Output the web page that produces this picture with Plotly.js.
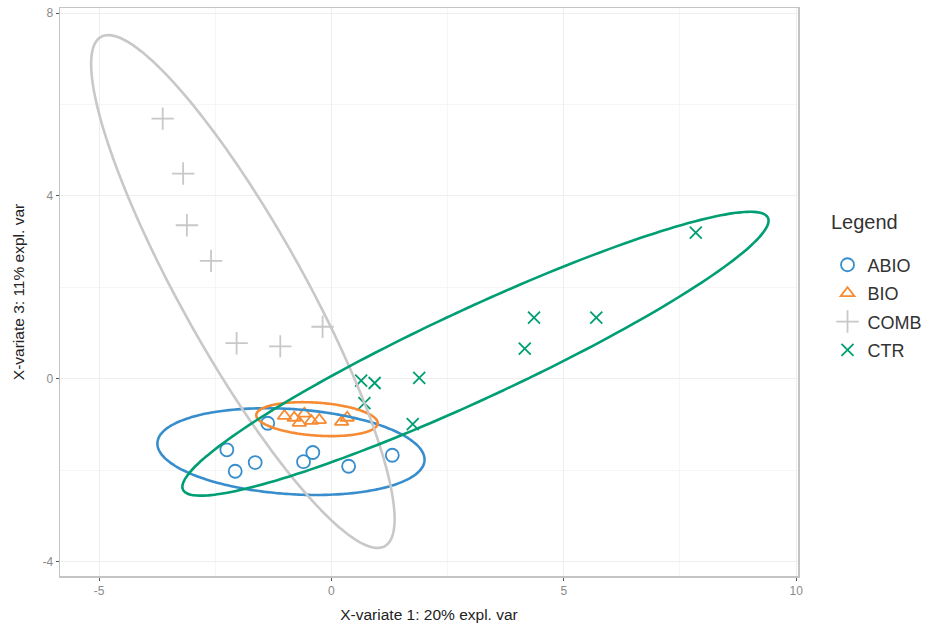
<!DOCTYPE html>
<html><head><meta charset="utf-8">
<script src="https://cdn.plot.ly/plotly-3.0.1.min.js"></script>
<style>html,body{margin:0;padding:0;background:#fff}#chart{width:940px;height:632px}</style>
</head><body><div id="chart"></div>
<script>
const groups = ['ABIO', 'BIO', 'COMB', 'CTR'];
const colors = ['#388ECC', '#F68B33', '#C8C8C8', '#009E73'];
const symbols = ['circle-open', 'triangle-up-open', 'cross-thin-open', 'x-thin-open'];
const markerSizes = [13, 12, 16, 12];

const abioX = [-2.25, -2.07, -1.64, -0.60, -0.40, 0.37, 1.31, -1.37];
const abioY = [-1.55, -2.02, -1.83, -1.81, -1.61, -1.91, -1.67, -0.97];
const bioX = [-1.01, -0.80, -0.58, -0.43, -0.26, 0.22, 0.34, -0.69];
const bioY = [-0.81, -0.85, -0.76, -0.92, -0.90, -0.94, -0.85, -0.96];
const combX = [-3.63, -3.19, -3.11, -2.59, -2.04, -1.10, -0.19];
const combY = [5.69, 4.49, 3.36, 2.58, 0.78, 0.71, 1.14];
const ctrX = [0.64, 0.93, 0.71, 1.89, 1.75, 4.16, 4.36, 5.70, 7.84];
const ctrY = [-0.04, -0.09, -0.53, 0.02, -0.99, 0.66, 1.34, 1.34, 3.20];

// confidence ellipse parameters (centre, semi-axes, rotation in degrees)
const ellCx = [-0.87, -0.31, -1.905, 3.10];
const ellCy = [-1.59, -0.88, 1.91, 0.55];
const ellA = [2.88, 1.31, 6.35, 6.96];
const ellB = [0.93, 0.36, 1.33, 0.98];
const ellAngle = [-3.9, -4.1, -61.3, 25.3];

const xTicks = [-5, 0, 5, 10];
const yTicks = [-4, 0, 4, 8];

const ptsX = [abioX, bioX, combX, ctrX];
const ptsY = [abioY, bioY, combY, ctrY];

const traces = [];
groups.forEach((g, i) => {
  traces.push({
    type: 'scatter', mode: 'markers', name: g, legendgroup: g,
    x: ptsX[i], y: ptsY[i],
    marker: {symbol: symbols[i], size: markerSizes[i], color: colors[i], line: {color: colors[i], width: 1.8}},
    hoverinfo: 'skip'
  });
});
groups.forEach((g, i) => {
  const ex = [], ey = [];
  const th = ellAngle[i] * Math.PI / 180;
  for (let k = 0; k <= 200; k++) {
    const t = 2 * Math.PI * k / 200;
    const u = ellA[i] * Math.cos(t), v = ellB[i] * Math.sin(t);
    ex.push(ellCx[i] + u * Math.cos(th) - v * Math.sin(th));
    ey.push(ellCy[i] + u * Math.sin(th) + v * Math.cos(th));
  }
  traces.push({
    type: 'scatter', mode: 'lines', x: ex, y: ey, showlegend: false, legendgroup: g,
    line: {color: colors[i], width: 2.6, shape: 'spline'}, hoverinfo: 'skip'
  });
});

const axisCommon = {
  showline: true, mirror: true, linecolor: '#c4c4c4', linewidth: 1.5,
  ticks: 'outside', ticklen: 3, tickwidth: 1, tickcolor: '#555',
  showgrid: true, gridcolor: '#eeeeee', gridwidth: 1, zeroline: false,
  tickfont: {family: 'Liberation Sans, Arial, sans-serif', size: 12, color: '#8a8a8a'}
};

const layout = {
  width: 940, height: 632,
  margin: {l: 60, r: 142, t: 8, b: 56},
  paper_bgcolor: '#ffffff', plot_bgcolor: '#ffffff',
  font: {family: 'Liberation Sans, Arial, sans-serif', color: '#222'},
  xaxis: Object.assign({}, axisCommon, {
    range: [-5.84, 10.04], tickvals: xTicks, ticktext: xTicks.map(String),
    minor: {dtick: 2.5, tick0: 0, showgrid: true, gridcolor: '#f5f5f5', gridwidth: 1, ticks: ''},
    title: {text: 'X-variate 1: 20% expl. var', font: {size: 15.5, color: '#222'}, standoff: 12}
  }),
  yaxis: Object.assign({}, axisCommon, {
    range: [-4.31, 8.11], tickvals: yTicks, ticktext: yTicks.map(String),
    minor: {dtick: 2, tick0: 0, showgrid: true, gridcolor: '#f5f5f5', gridwidth: 1, ticks: ''},
    title: {text: 'X-variate 3: 11% expl. var', font: {size: 15.5, color: '#222'}, standoff: 14}
  }),
  annotations: [{
    text: 'Legend', xref: 'paper', yref: 'paper', x: 1.042, y: 0.623,
    xanchor: 'left', yanchor: 'middle', showarrow: false,
    font: {size: 20, color: '#333'}
  }],
  legend: {
    x: 1.04, xanchor: 'left', y: 0.58, yanchor: 'top',
    font: {size: 18, color: '#333'}, tracegroupgap: 2,
    bgcolor: 'rgba(0,0,0,0)', itemwidth: 30
  },
  showlegend: true
};

Plotly.newPlot('chart', traces, layout, {displayModeBar: false, staticPlot: true});
</script>
</body></html>
